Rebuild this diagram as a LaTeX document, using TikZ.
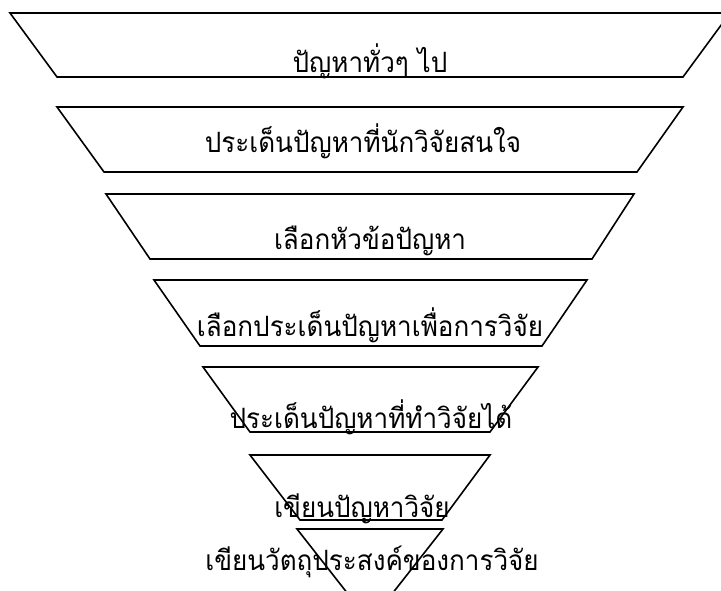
\documentclass[tikz,border=0pt]{standalone}
\usepackage{fontspec}
\newfontfamily\thaifont[Script=Thai, FakeStretch=0.93]{Loma}
\tikzset{
  funnel/.style={draw=black, line width=1.6pt, line join=miter},
  steptext/.style={anchor=base, inner sep=0pt, font=\thaifont\fontsize{28}{30}\selectfont}
}
\begin{document}
\begin{tikzpicture}[x=1pt, y=-1pt]
    \useasboundingbox (0,0) rectangle (721,591);
    \clip (0,0) rectangle (721,591);
    % funnel layers, top to bottom
    \draw[funnel] (10,13) -- (730,13) -- (683,77) -- (57,77) -- cycle;
    \draw[funnel] (57,107) -- (683,107) -- (637,172) -- (104,172) -- cycle;
    \draw[funnel] (106,194) -- (634,194) -- (592,259) -- (150,259) -- cycle;
    \draw[funnel] (154,280) -- (587,280) -- (542,346) -- (200,346) -- cycle;
    \draw[funnel] (203,367) -- (538,367) -- (490,432) -- (250,432) -- cycle;
    \draw[funnel] (250,455) -- (490,455) -- (442,520) -- (300,520) -- cycle;
    \draw[funnel] (297,529) -- (443,529) -- (370,622) -- cycle;

    % labels
    \node[steptext] (general) at (370,73) {ปัญหาทั่วๆ ไป};
    \node[steptext] (interest) at (363,153) {ประเด็นปัญหาที่นักวิจัยสนใจ};
    \node[steptext] (topic) at (370,250) {เลือกหัวข้อปัญหา};
    \node[steptext] (select) at (370,336) {เลือกประเด็นปัญหาเพื่อการวิจัย};
    \node[steptext] (feasible) at (371,428) {ประเด็นปัญหาที่ทำวิจัยได้};
    \node[steptext] (write) at (362,517) {เขียนปัญหาวิจัย};
    \node[steptext] (objective) at (372,570) {เขียนวัตถุประสงค์ของการวิจัย};
\end{tikzpicture}
\end{document}
